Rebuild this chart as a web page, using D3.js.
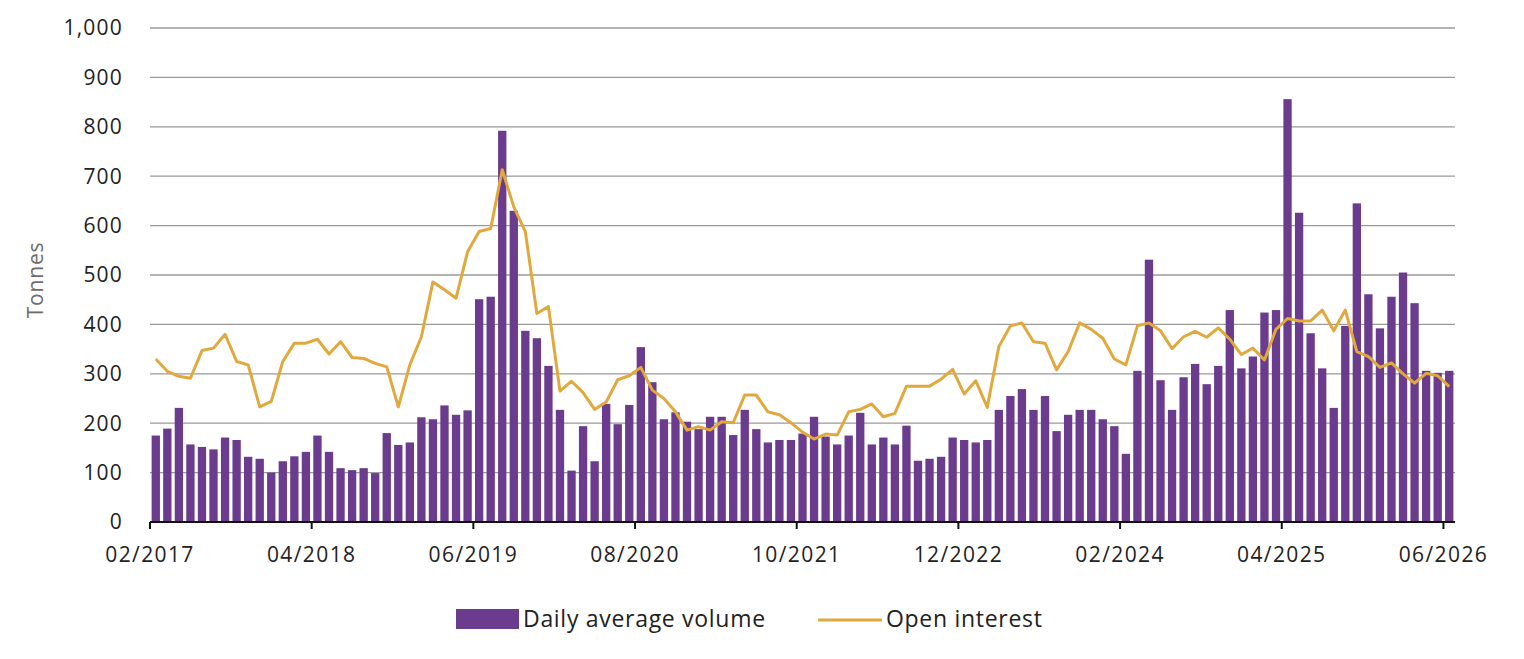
<!DOCTYPE html>
<html>
<head>
<meta charset="utf-8">
<script src="https://cdn.jsdelivr.net/npm/d3@7"></script>
<style>
  html, body { margin: 0; padding: 0; background: #fff; }
  svg { display: block; }
  text { font-family: "Open Sans", "Noto Sans", sans-serif; }
</style>
</head>
<body>
<svg id="chart" width="1524" height="659"></svg>
<script>
// ---------- DATA ----------
const months = [
  "02/2017","03/2017","04/2017","05/2017","06/2017","07/2017","08/2017","09/2017","10/2017","11/2017","12/2017",
  "01/2018","02/2018","03/2018","04/2018","05/2018","06/2018","07/2018","08/2018","09/2018","10/2018","11/2018","12/2018",
  "01/2019","02/2019","03/2019","04/2019","05/2019","06/2019","07/2019","08/2019","09/2019","10/2019","11/2019","12/2019",
  "01/2020","02/2020","03/2020","04/2020","05/2020","06/2020","07/2020","08/2020","09/2020","10/2020","11/2020","12/2020",
  "01/2021","02/2021","03/2021","04/2021","05/2021","06/2021","07/2021","08/2021","09/2021","10/2021","11/2021","12/2021",
  "01/2022","02/2022","03/2022","04/2022","05/2022","06/2022","07/2022","08/2022","09/2022","10/2022","11/2022","12/2022",
  "01/2023","02/2023","03/2023","04/2023","05/2023","06/2023","07/2023","08/2023","09/2023","10/2023","11/2023","12/2023",
  "01/2024","02/2024","03/2024","04/2024","05/2024","06/2024","07/2024","08/2024","09/2024","10/2024","11/2024","12/2024",
  "01/2025","02/2025","03/2025","04/2025","05/2025","06/2025","07/2025","08/2025","09/2025","10/2025","11/2025","12/2025",
  "01/2026","02/2026","03/2026","04/2026","05/2026","06/2026"
];

const dailyAverageVolume = [
  175,189,231,157,152,147,171,166,132,128,100,
  123,133,142,175,142,109,105,109,99,180,156,161,
  212,208,236,217,226,451,456,792,630,387,372,316,
  227,104,194,123,239,198,237,354,283,208,222,203,
  188,213,213,176,227,188,161,166,166,179,213,173,
  157,175,221,157,171,157,195,124,128,132,171,166,
  161,166,227,255,269,227,255,184,217,227,227,208,
  194,138,306,531,287,227,293,320,279,316,429,311,
  335,424,429,856,626,382,311,231,397,645,461,392,
  456,505,443,306,302,306
];

const openInterest = [
  330,305,295,291,347,352,380,325,318,233,244,
  325,362,362,370,340,365,333,331,321,314,233,318,
  375,486,470,453,547,588,594,713,638,588,422,436,
  265,285,262,228,243,288,296,313,267,250,223,186,
  193,186,203,201,257,257,223,217,201,182,168,178,
  176,223,228,239,213,220,275,275,275,289,309,259,
  286,232,355,397,403,365,362,308,345,403,390,372,
  330,318,397,403,387,351,375,386,374,393,370,339,
  352,328,390,412,407,407,429,387,429,345,335,313,
  322,300,281,301,296,274
];

const xTickLabels = ["02/2017","04/2018","06/2019","08/2020","10/2021","12/2022","02/2024","04/2025","06/2026"];
const yTicks = [0,100,200,300,400,500,600,700,800,900,1000];

const seriesNames = ["Daily average volume", "Open interest"];
const barColor = "#6b3b8d";
const lineColor = "#e1a93d";

// ---------- LAYOUT ----------
const svg = d3.select("#chart");
const plotLeft = 150, plotRight = 1455, plotTop = 28, plotBottom = 522;

const x = d3.scaleBand()
  .domain(months)
  .range([plotLeft, plotRight])
  .paddingInner(0.28)
  .paddingOuter(0.14);

const y = d3.scaleLinear().domain([0, 1000]).range([plotBottom, plotTop]);

const step = x.step();
const bw = x.bandwidth();
const slotStart = m => x(m) - (step - bw) / 2;

// gridlines
svg.append("g")
  .selectAll("line")
  .data(yTicks.filter(d => d > 0))
  .join("line")
  .attr("x1", plotLeft).attr("x2", plotRight)
  .attr("y1", d => y(d)).attr("y2", d => y(d))
  .attr("stroke", "#9a9a9a")
  .attr("stroke-width", 1.3);

// y tick labels
svg.append("g")
  .selectAll("text")
  .data(yTicks)
  .join("text")
  .attr("x", 123)
  .attr("y", d => y(d))
  .attr("dy", "0.35em")
  .attr("text-anchor", "end")
  .attr("font-size", 21)
  .attr("letter-spacing", 1.2)
  .attr("fill", "#222")
  .text(d => d3.format(",")(d));

// y axis title
svg.append("text")
  .attr("transform", `translate(43,${(plotTop + plotBottom) / 2 + 5}) rotate(-90)`)
  .attr("text-anchor", "middle")
  .attr("font-size", 21)
  .attr("letter-spacing", 0.8)
  .attr("fill", "#6d6d6d")
  .text("Tonnes");

// bars
svg.append("g")
  .selectAll("rect")
  .data(months.map((m, i) => ({ m, v: dailyAverageVolume[i] })))
  .join("rect")
  .attr("x", d => x(d.m))
  .attr("width", bw)
  .attr("y", d => y(d.v))
  .attr("height", d => y(0) - y(d.v))
  .attr("fill", barColor);

// line
const line = d3.line()
  .x(d => x(d.m) + bw / 2)
  .y(d => y(d.v));

svg.append("path")
  .datum(months.map((m, i) => ({ m, v: openInterest[i] })))
  .attr("d", line)
  .attr("fill", "none")
  .attr("stroke", lineColor)
  .attr("stroke-width", 3)
  .attr("stroke-linejoin", "round");

// x axis
const xAxis = svg.append("g");
xAxis.append("line")
  .attr("x1", plotLeft).attr("x2", plotRight)
  .attr("y1", plotBottom).attr("y2", plotBottom)
  .attr("stroke", "#111").attr("stroke-width", 2);

xAxis.selectAll("line.tick")
  .data(xTickLabels)
  .join("line")
  .attr("class", "tick")
  .attr("x1", d => slotStart(d)).attr("x2", d => slotStart(d))
  .attr("y1", plotBottom).attr("y2", plotBottom + 7)
  .attr("stroke", "#111").attr("stroke-width", 2);

xAxis.selectAll("text")
  .data(xTickLabels)
  .join("text")
  .attr("x", d => slotStart(d))
  .attr("y", 562)
  .attr("text-anchor", "middle")
  .attr("font-size", 21)
  .attr("letter-spacing", 1.4)
  .attr("fill", "#222")
  .text(d => d);

// legend
const legend = svg.append("g");
legend.append("rect")
  .attr("x", 456).attr("y", 609).attr("width", 63).attr("height", 20)
  .attr("fill", barColor);
legend.append("text")
  .attr("x", 523).attr("y", 619).attr("dy", "0.35em")
  .attr("font-size", 23)
  .attr("letter-spacing", 0.7)
  .attr("fill", "#222")
  .text(seriesNames[0]);
legend.append("line")
  .attr("x1", 818).attr("x2", 882).attr("y1", 620).attr("y2", 620)
  .attr("stroke", lineColor).attr("stroke-width", 3);
legend.append("text")
  .attr("x", 886).attr("y", 619).attr("dy", "0.35em")
  .attr("font-size", 23)
  .attr("letter-spacing", 0.7)
  .attr("fill", "#222")
  .text(seriesNames[1]);
</script>
</body>
</html>
